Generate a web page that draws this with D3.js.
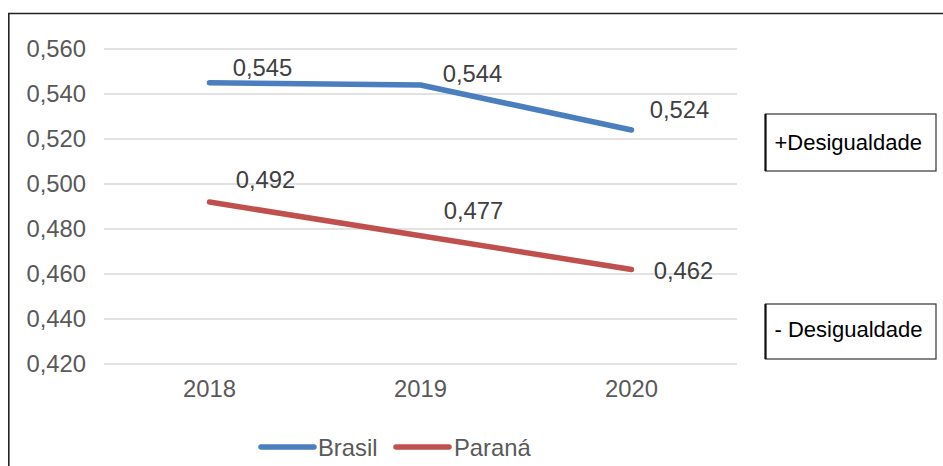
<!DOCTYPE html>
<html>
<head>
<meta charset="utf-8">
<script src="https://cdn.jsdelivr.net/npm/d3@7"></script>
<style>
  html, body { margin: 0; padding: 0; background: #fff; }
  svg { display: block; }
  text { font-family: "Liberation Sans", Arial, sans-serif; }
</style>
</head>
<body>
<svg id="chart" width="943" height="466"></svg>
<script>
// ---- data ----
const years = ["2018", "2019", "2020"];
const brasil = [0.545, 0.544, 0.524];
const parana = [0.492, 0.477, 0.462];
const seriesNames = ["Brasil", "Paraná"];
const yTicks = [0.42, 0.44, 0.46, 0.48, 0.50, 0.52, 0.54, 0.56];
const boxLabels = ["+Desigualdade", "- Desigualdade"];

// ---- layout ----
const colors = ["#4a7ebf", "#c0504d"];
const labelOffsets = [
  [[53, -15], [52, -12], [48, -21]],
  [[56, -23], [53, -25], [52, 0.5]]
];
const fs = 23.8;
const fmt = v => d3.format(".3f")(v).replace(".", ",");

const svg = d3.select("#chart");
const x = d3.scaleBand().domain(years).range([104, 737]).padding(0);
const y = d3.scaleLinear().domain([0.42, 0.56]).range([364, 49]);

// outer frame (top + left visible)
svg.append("line").attr("x1", 8).attr("x2", 943).attr("y1", 13.5).attr("y2", 13.5)
  .attr("stroke", "#222").attr("stroke-width", 1.6);
svg.append("line").attr("x1", 8.8).attr("x2", 8.8).attr("y1", 13).attr("y2", 466)
  .attr("stroke", "#222").attr("stroke-width", 1.6);

// gridlines
svg.append("g").selectAll("line").data(yTicks).join("line")
  .attr("x1", 104).attr("x2", 737)
  .attr("y1", d => y(d)).attr("y2", d => y(d))
  .attr("stroke", "#d9d9d9").attr("stroke-width", 1.5);

// y axis labels
const yAxis = d3.axisLeft(y).tickValues(yTicks).tickFormat(fmt).tickSize(0).tickPadding(0);
const gy = svg.append("g").attr("transform", "translate(86,0)").call(yAxis);
gy.select(".domain").remove();
gy.selectAll("text").attr("font-size", fs).attr("fill", "#595959")
  .attr("font-family", "Liberation Sans, Arial, sans-serif");

// x axis labels
const xAxis = d3.axisBottom(x).tickSize(0).tickPadding(0);
const gx = svg.append("g").attr("transform", "translate(0,380)").call(xAxis);
gx.select(".domain").remove();
gx.selectAll("text").attr("font-size", fs).attr("fill", "#595959")
  .attr("font-family", "Liberation Sans, Arial, sans-serif");

// lines
const allSeries = [brasil, parana];
const line = d3.line().x((d, i) => x(years[i]) + x.bandwidth() / 2).y(d => y(d));
allSeries.forEach((s, k) => {
  svg.append("path").datum(s).attr("d", line)
    .attr("fill", "none").attr("stroke", colors[k]).attr("stroke-width", 5.5)
    .attr("stroke-linecap", "round").attr("stroke-linejoin", "round");
});

// data labels
allSeries.forEach((s, k) => {
  svg.append("g").selectAll("text").data(s).join("text")
    .attr("x", (d, i) => x(years[i]) + x.bandwidth() / 2 + labelOffsets[k][i][0])
    .attr("y", (d, i) => y(d) + labelOffsets[k][i][1])
    .attr("text-anchor", "middle").attr("dominant-baseline", "central")
    .attr("font-size", fs).attr("fill", "#404040")
    .text(d => fmt(d));
});

// legend
const legendItems = [
  { name: seriesNames[0], color: colors[0], x1: 261, x2: 314, tx: 318 },
  { name: seriesNames[1], color: colors[1], x1: 396, x2: 449, tx: 454 }
];
const lg = svg.append("g");
legendItems.forEach(it => {
  lg.append("line").attr("x1", it.x1).attr("x2", it.x2).attr("y1", 447).attr("y2", 447)
    .attr("stroke", it.color).attr("stroke-width", 5.5).attr("stroke-linecap", "round");
  lg.append("text").attr("x", it.tx).attr("y", 455.5).attr("font-size", fs)
    .attr("fill", "#595959").text(it.name);
});

// side boxes
const boxes = [
  { label: boxLabels[0], y0: 114, y1: 171, tb: 150 },
  { label: boxLabels[1], y0: 304, y1: 359, tb: 337 }
];
boxes.forEach(b => {
  svg.append("rect").attr("x", 765.5).attr("y", b.y0).attr("width", 170.5).attr("height", b.y1 - b.y0)
    .attr("fill", "#fff").attr("stroke", "#333").attr("stroke-width", 1.2);
  svg.append("line").attr("x1", 765.5).attr("x2", 765.5).attr("y1", b.y0).attr("y2", b.y1)
    .attr("stroke", "#111").attr("stroke-width", 2.2);
  svg.append("text").attr("x", 774.5).attr("y", b.tb).attr("font-size", 22)
    .attr("fill", "#000").text(b.label);
});
</script>
</body>
</html>
